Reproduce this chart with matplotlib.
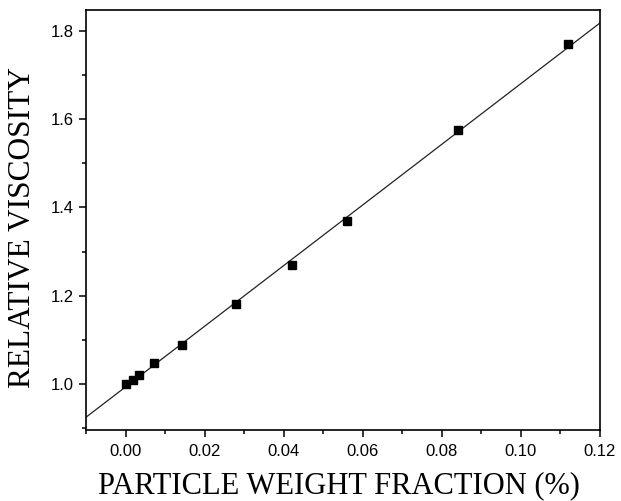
import numpy as np
from matplotlib import pyplot as plt
from matplotlib.ticker import MultipleLocator

# data
weight_fraction=[0.0,0.0018,0.0035,0.0072,0.0143,0.028,0.042,0.056,0.084,0.112]
rel_viscosity=[1.0,1.008,1.019,1.047,1.089,1.18,1.27,1.37,1.575,1.77]

fig=plt.figure(figsize=(6.21,5.01),dpi=100)
ax=fig.add_axes([0.1385,0.1417,0.966-0.1385,0.98-0.1417])

# linear fit through the points
slope,icpt=np.polyfit(weight_fraction,rel_viscosity,1)
xfit=np.array([-0.01,0.12])
ax.plot(xfit,icpt+slope*xfit,color='#222222',lw=0.9)
ax.plot(weight_fraction,rel_viscosity,'s',color='black',ms=5.2)

ax.set_xlim(-0.01,0.12)
ax.set_ylim(0.895,1.848)
ax.xaxis.set_major_locator(MultipleLocator(0.02))
ax.xaxis.set_minor_locator(MultipleLocator(0.01))
ax.yaxis.set_major_locator(MultipleLocator(0.2))
ax.yaxis.set_minor_locator(MultipleLocator(0.1))
ax.xaxis.set_major_formatter(plt.FuncFormatter(lambda v,p:'%.2f'%v))
ax.yaxis.set_major_formatter(plt.FuncFormatter(lambda v,p:'%.1f'%v))
ax.tick_params(which='both',direction='out',top=False,right=False,labelsize=12)
ax.tick_params(which='major',length=5,width=1.1)
ax.tick_params(which='minor',length=3,width=1.1)
ax.tick_params(axis='x',which='major',pad=5)
for lab in ax.get_xticklabels()+ax.get_yticklabels():
    lab.set_family('Liberation Sans')
for sp in ax.spines.values():
    sp.set_linewidth(1.2)

ax.set_xlabel('PARTICLE WEIGHT FRACTION (%)',family='Liberation Serif',fontsize=22)
ax.set_ylabel('RELATIVE VISCOSITY',family='Liberation Serif',fontsize=22.6)
ax.xaxis.set_label_coords(0.492,-0.097)
ax.yaxis.set_label_coords(-0.095,0.481)

fig.savefig('out.png',dpi=100)
